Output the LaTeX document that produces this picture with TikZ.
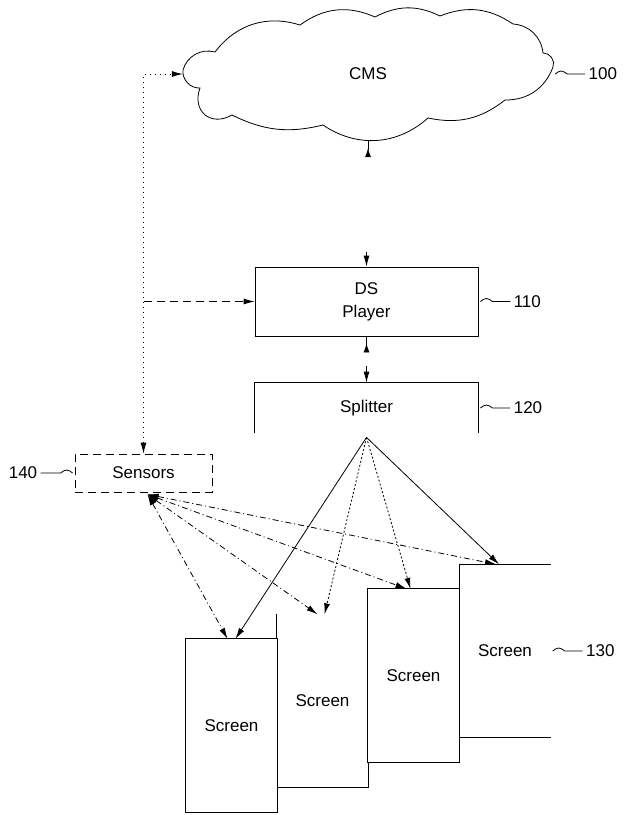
\documentclass[tikz,border=0pt]{standalone}
\usepackage{fontspec}
\setmainfont{Liberation Sans}
\usetikzlibrary{arrows.meta,positioning}
\tikzset{>={Latex[length=11pt,width=6pt]},every node/.style={font=\fontsize{17}{23}\selectfont},
 line/.style={line width=.8pt},box/.style={line,minimum width=223pt,align=center},
 screen/.style={minimum width=91pt,minimum height=173pt,inner sep=0pt},
 dotline/.style={line,dash pattern=on 1pt off 4pt},dashline/.style={line,dash pattern=on 8pt off 5pt},
 fineline/.style={line,dash pattern=on 2pt off 2pt},dashdot/.style={line,dash pattern=on 6pt off 3pt on 1pt off 3pt}}

\begin{document}
\begin{tikzpicture}[x=1pt,y=-1pt]
\useasboundingbox (0,0) rectangle (635,815);
\node[minimum width=370pt,minimum height=132pt,inner sep=0pt] (cms) at (368,74) {CMS};
% cloud outline
\draw[line] (183,70) to[bend left=45] (215,52) to[bend left=35] (300,25) to[bend left=30] (375,17)
 to[bend left=27] (440,16) to[bend left=28] (513,24) to[bend left=40] (543,53) to[bend left=60] (553,67)
 to[bend left=35] (505,100) to[bend left=25] (428,118) to[bend left=38] (323,125) to[bend left=20] (232,115)
 to[bend left=70,looseness=1.5] (200,88) to[bend left=50] (183,70);
\node[box,draw,minimum height=69pt] (ds) at (366.5,301.5) {DS\\Player};
\node[box,minimum height=50pt] (split) at (366.5,408) {Splitter};
\draw[line] (split.south west) |- (split.north east) -- (split.south east);
\node[box,draw,dashline,minimum width=137pt,minimum height=38pt] (sens) at (143.5,473) {Sensors};
\foreach \i/\x/\y in {1/231.5/725.5,2/322.5/701,3/413.5/675.5,4/505/651}
 {\node[screen] (scr\i) at (\x,\y) {Screen};}
\draw[line] (scr1.south west) rectangle (scr1.north east);
\draw[line] (scr3.south west) rectangle (scr3.north east);
\draw[line] (scr2.north west) -- (scr2.west |- scr1.north);
\draw[line] (scr2.south west) -- (scr2.south east) -- (scr2.east |- scr3.south);
\draw[line] (scr4.north east) -- (scr4.north west) -- (scr4.west |- scr3.north);
\draw[line] (scr4.south west) -- (scr4.south east);
% reference numerals
\foreach \n/\t in {cms/100,ds/110,split/120,scr4/130}
 {\draw[line] (\n.east) ++(2,0) sin ++(6,-3) cos ++(6,3) -- ++(18,0) node[right,inner sep=3pt]{\t};}
\draw[line] (sens.west) ++(-2,0) sin ++(-6,-3) cos ++(-6,3) -- ++(-20,0) node[left,inner sep=3pt]{140};
% links
\draw[line,-{Latex[reversed,length=9pt,width=6pt]}] (cms.south) -- ++(0,17);
\draw[line,->] ([yshift=15pt]ds.north) -- (ds.north);
\draw[line,-{Latex[reversed,length=9pt,width=6pt]}] (ds.south) -- ++(0,16);
\draw[line,->] ([yshift=17pt]split.north) -- (split.north);
\draw[dotline,<->] (sens.north) |- (cms.west);
\coordinate (tap) at (sens.north |- ds.west);
\draw[dashline,->] (tap) -- (ds.west);
\coordinate (hub) at ([yshift=-4pt]split.south);
\coordinate (sout) at ([xshift=4pt,yshift=-2pt]sens.south);
\foreach \i/\dx in {1/-4,2/-5,3/-7,4/-9}
 {\draw[dashdot,<->] (sout) -- ([xshift=\dx pt]scr\i.north);}
\draw[line,->] (hub) -- ([xshift=4pt]scr1.north);
\draw[fineline,->] (hub) -- ([xshift=2pt]scr2.north);
\draw[fineline,->] (hub) -- ([xshift=-3pt]scr3.north);
\draw[line,->] (hub) -- ([xshift=-6pt]scr4.north);
\end{tikzpicture}
\end{document}
